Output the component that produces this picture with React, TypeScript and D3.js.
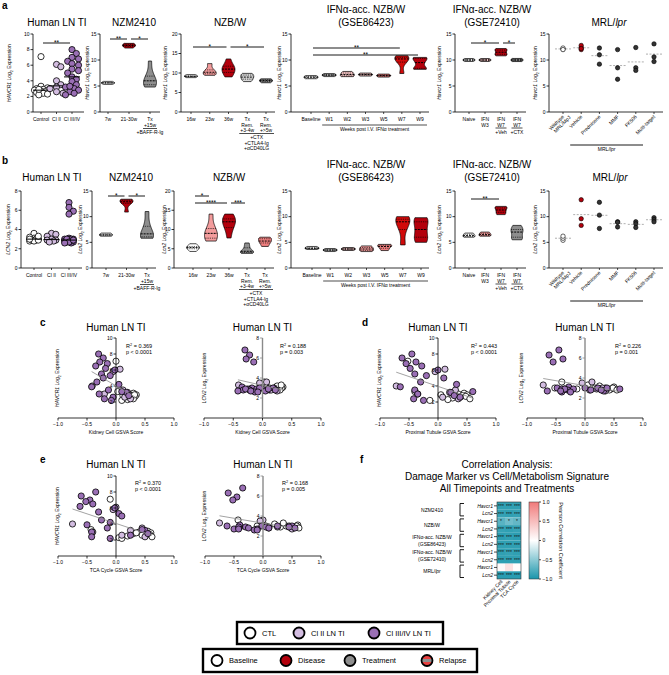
import React from "react";
import * as d3 from "d3";

const F = "'Liberation Sans', Arial, Helvetica, sans-serif";

/* ======================= DATA ======================= */
// Human LN TI cohort, one entry per sample
const ctlHAVCR1 = [7.1, 3.3, 3.1, 3.0, 2.9, 2.8, 2.8, 2.7, 2.6, 2.5, 2.4, 2.3, 2.2, 2.9];
const ctlLCN2 = [3.0, 3.6, 2.9, 3.0, 3.1, 2.9, 2.8, 3.0, 2.9, 3.2, 2.8, 3.0, 2.9, 3.3];
const ctlKidney = [0.0, 0.03, 0.3, 0.22, 0.35, 0.28, 0.12, 0.33, 0.18, 0.25, 0.3, 0.2, 0.1, 0.32];
const ctlPT = [-0.52, -0.4, 0.45, 0.35, 0.5, 0.3, 0.42, 0.48, 0.38, 0.25, 0.55, 0.17, -0.14, 0.05];
const ctlTCA = [-0.1, -0.43, 0.55, 0.4, 0.6, 0.3, 0.5, 0.58, 0.45, 0.2, 0.62, 0.05, 0.1, 0.35];

const c2HAVCR1 = [6.1, 5.8, 4.0, 3.5, 3.2, 3.0, 2.6, 2.4];
const c2LCN2 = [3.6, 3.5, 3.3, 3.0, 2.9, 2.9, 2.8, 2.7];
const c2Kidney = [0.07, -0.05, -0.41, 0.12, 0.2, -0.2, 0.15, 0.25];
const c2PT = [0.12, -0.05, -0.72, 0.3, 0.2, -0.35, 0.08, 0.35];
const c2TCA = [0.0, -0.05, -0.75, 0.45, 0.25, -0.4, 0.1, 0.5];

const c34HAVCR1 = [8.0, 7.5, 7.0, 6.8, 6.5, 6.2, 6.0, 5.5, 5.3, 5.0, 4.5, 4.2, 3.9, 3.5, 3.2, 3.0, 2.8, 2.6, 2.4, 2.2, 3.3];
const c34LCN2 = [6.8, 6.3, 5.9, 5.6, 3.1, 3.0, 3.0, 2.9, 2.9, 2.8, 2.8, 2.7, 2.7, 2.6, 3.0, 2.9, 2.8, 3.0, 2.7, 2.6, 2.9];
const c34Kidney = [-0.3, -0.22, -0.28, -0.15, -0.35, -0.18, -0.02, -0.25, -0.1, -0.22, -0.33, 0.05, -0.42, -0.13, 0.18, -0.29, 0.22, -0.05, -0.2, -0.08, 0.1];
const c34PT = [-0.45, -0.62, -0.38, -0.55, -0.28, -0.48, 0.0, -0.4, -0.2, 0.1, -0.3, 0.32, -0.65, -0.4, 0.22, -0.35, 0.28, 0.38, -0.42, -0.25, 0.6];
const c34TCA = [-0.35, -0.6, -0.45, -0.52, -0.4, -0.62, -0.02, -0.3, 0.05, 0.1, -0.25, -0.1, -0.5, -0.15, 0.5, -0.42, 0.55, 0.25, -0.42, -0.1, 0.45];

const humanCats = ["Control", "Cl II", "Cl III/IV"];

// NZM2410
const nzmCats = ["7w", "21-30w", "Tx"];
const nzmTxSub = ["+15w", "+BAFF-R-Ig"];
const nzmHavcr1 = [[5.5, 5.6, 5.7, 5.6], [12.3, 12.6, 12.8, 13.0, 13.2], [4.8, 5.0, 5.5, 6.0, 6.3, 7.5, 9.8]];
const nzmLcn2 = [[6.2, 6.5, 6.8, 6.4], [10.9, 12.6, 12.9, 13.2, 13.4], [5.8, 6.0, 6.3, 7.0, 8.5, 11.0]];

// NZB/W
const nzbCats = ["16w", "23w", "36w", "Tx", "Tx"];
const nzbRem = ["Rem.", "Rem."];
const nzbWeeks = ["+3-4w", "+>5w"];
const nzbTx = ["+CTX", "+CTLA4-Ig", "+αCD40LG"];
const nzbHavcr1 = [[9.0, 9.2, 9.4, 9.1], [9.4, 9.8, 10.2, 10.8, 12.4], [9.0, 9.8, 10.5, 11.0, 11.5, 12.0, 13.6], [7.8, 8.3, 8.8, 9.1, 9.6, 9.9], [7.5, 7.9, 8.2, 8.5]];
const nzbLcn2 = [[4.3, 5.0, 5.3, 5.6, 6.3], [7.0, 7.5, 8.5, 9.5, 10.5, 14.0], [7.8, 10.0, 11.0, 12.0, 12.5, 13.0, 14.0], [3.8, 4.0, 4.2, 4.5, 5.5, 6.5], [5.6, 6.5, 7.0, 7.6, 8.0]];

// IFNα-accelerated NZB/W (GSE86423)
const gse86Cats = ["Baseline", "W1", "W2", "W3", "W5", "W7", "W9"];
const gse86Note = "Weeks post I.V. IFNα treatment";
const gse86Havcr1 = [[6.4, 6.6, 6.8, 7.0], [6.9, 7.1, 7.3], [6.8, 7.0, 7.4, 7.8], [7.0, 7.2, 7.4], [6.8, 7.0, 7.2], [7.4, 9.6, 10.2, 10.5, 10.8], [8.2, 8.4, 9.5, 10.3, 10.5]];
const gse86Lcn2 = [[3.7, 3.9, 4.1, 3.8], [3.4, 3.5, 3.6], [3.5, 3.7, 3.9], [3.2, 3.5, 3.9, 4.3], [3.4, 4.0, 4.4, 4.6], [4.5, 7.5, 9.0, 9.5, 10.0], [5.0, 6.0, 7.5, 9.0, 9.8]];

// IFNα-accelerated NZB/W (GSE72410)
const gse72Cats = ["Naive", "IFN", "IFN", "IFN"];
const gse72Sub = ["", "W3", "W7", "W7"];
const gse72Sub2 = ["", "", "+Veh", "+CTX"];
const gse72Havcr1 = [[9.8, 10.0, 10.2], [9.9, 10.1], [10.8, 11.2, 11.8, 12.2], [9.7, 10.0, 10.3]];
const gse72Lcn2 = [[6.0, 6.3, 6.8], [6.2, 6.5, 7.0], [10.4, 11.0, 11.6, 12.0], [5.5, 6.0, 7.0, 7.5, 8.3]];

// MRL/lpr
const mrlCats = [["Wildtype", "MRL/MpJ"], ["Vehicle"], ["Prednisone"], ["MMF"], ["FK506"], ["Multi-target"]];
const mrlGroup = "MRL/lpr";
const mrlHavcr1 = [[12.1, 12.3, 12.0], [12.0, 12.4, 12.8, 12.2], [12.3, 11.0, 9.2], [12.0, 8.5, 6.3], [12.4, 8.5, 8.0], [13.1, 10.6, 9.7]];
const mrlLcn2 = [[5.4, 5.8, 6.2], [13.3, 9.6, 8.3], [12.8, 10.3, 7.7], [9.0, 8.9, 8.0], [9.0, 8.6, 7.9], [9.8, 9.4, 9.0]];

// Correlations shown in c-e
const corrStats = [
  ["0.369", "p < 0.0001"], ["0.188", "p = 0.003"],
  ["0.443", "p < 0.0001"], ["0.226", "p = 0.001"],
  ["0.370", "p < 0.0001"], ["0.168", "p = 0.005"],
];

// Heatmap f
const hmGroups = [["NZM2410"], ["NZB/W"], ["IFNα-acc. NZB/W", "(GSE86423)"], ["IFNα-acc. NZB/W", "(GSE72410)"], ["MRL/lpr"]];
const hmGenes = ["Havcr1", "Lcn2"];
const hmCols = ["Kidney Cell", "Proximal Tubule", "TCA Cycle"];
const hmValues = [
  [-0.9, -0.9, -0.9], [-0.88, -0.9, -0.88],
  [-0.72, -0.62, -0.68], [-0.88, -0.9, -0.88],
  [-0.92, -0.9, -0.92], [-0.9, -0.9, -0.9],
  [-0.9, -0.88, -0.9], [-0.9, -0.9, -0.9],
  [0.04, 0.22, 0.02], [-0.93, -0.93, -0.93],
];
const hmSig = [
  ["***", "***", "***"], ["***", "***", "***"],
  ["*", "*", "*"], ["***", "***", "***"],
  ["***", "***", "***"], ["***", "***", "***"],
  ["***", "***", "***"], ["***", "***", "***"],
  ["", "", ""], ["***", "***", "***"],
];
const cbTicks = [1, 0.5, 0, -0.5, -1];

const legend1 = ["CTL", "Cl II LN TI", "Cl III/IV LN TI"];
const legend2 = ["Baseline", "Disease", "Treatment", "Relapse"];

/* ======================= STYLE ======================= */
const WHITE = "#ffffff";
const RED = "#b3000c";
const RED2 = "#d10a0a";
const PINK = "#f39c9c";
const PINK_L = "#f7c6c6";
const SALMON = "#ef7f7f";
const GRAY = "#8e8e8e";
const GRAY_L = "#d6d6d6";
const DARK = "#333333";
const CL2 = "#d3bde1";
const CL34 = "#9a6fb5";

/* ======================= HELPERS ======================= */
function Rich({ s }: { s: string }) {
  const parts = s.split(/(lpr)/);
  return (
    <>
      {parts.map((t, i) =>
        t === "lpr" ? <tspan key={i} fontStyle="italic">lpr</tspan> : <tspan key={i}>{t}</tspan>
      )}
    </>
  );
}

function YLabel({ x, y, gene, size = 5 }: any) {
  return (
    <text transform={`translate(${x},${y}) rotate(-90)`} textAnchor="middle" fontSize={size} fontFamily={F}>
      <tspan fontStyle="italic">{gene}</tspan>
      <tspan> Log</tspan>
      <tspan fontSize={size * 0.7} dy={size * 0.3}>2</tspan>
      <tspan dy={-size * 0.3}> Expression</tspan>
    </text>
  );
}

function Violin({ vals, cx, y, hw, fill }: any) {
  const s = vals.slice().sort(d3.ascending);
  const unitsPerPx = Math.abs(y.invert(0) - y.invert(1));
  let lo = s[0], hi = s[s.length - 1];
  const minSpan = 3 * unitsPerPx;
  if (hi - lo < minSpan) {
    const m = (lo + hi) / 2;
    lo = m - minSpan / 2;
    hi = m + minSpan / 2;
  }
  const bw = Math.max((hi - lo) * 0.22, minSpan * 0.6);
  const f = (p: number) => d3.sum(s, (v: number) => Math.exp(-0.5 * ((p - v) / bw) ** 2));
  const grid = d3.range(41).map((i) => lo + ((hi - lo) * i) / 40);
  const dmax = d3.max(grid, f) as number;
  const w = (v: number) => (hw * f(v)) / dmax;
  const area = d3.area<number>().x0((v) => cx - w(v)).x1((v) => cx + w(v)).y((v) => y(v)).curve(d3.curveCatmullRom);
  const q = [0.25, 0.5, 0.75].map((t) => d3.quantile(s, t) as number);
  return (
    <g>
      <path d={area(grid) as string} fill={fill} stroke="#000" strokeWidth={0.7} />
      {q.map((v, i) => (
        <line key={i} x1={cx - w(v)} x2={cx + w(v)} y1={y(v)} y2={y(v)} stroke="#000"
          strokeWidth={i === 1 ? 1 : 0.8} strokeDasharray={i === 1 ? "2,1" : "0.8,1"} />
      ))}
    </g>
  );
}

function swarmOffsets(vals: number[], y: any, r: number, maxW: number, minFrac: number) {
  const order = vals.map((v, i) => ({ v, i, py: y(v) })).sort((a, b) => a.py - b.py);
  const placed: { dx: number; py: number }[] = [];
  const dxs = new Array(vals.length).fill(0);
  const step = r * 0.7;
  const cands = [0];
  for (let k = 1; k * step <= maxW; k++) cands.push(k * step, -k * step);
  for (const o of order) {
    let best = 0, bestD = -1;
    for (const c of cands) {
      const dmin = placed.length ? (d3.min(placed, (p) => Math.hypot(p.dx - c, p.py - o.py)) as number) : Infinity;
      if (dmin >= 2 * r * minFrac) { best = c; break; }
      if (dmin > bestD) { bestD = dmin; best = c; }
    }
    placed.push({ dx: best, py: o.py });
    dxs[o.i] = best;
  }
  return dxs;
}

function Dots({ vals, cx, y, r, fill, maxW, minFrac = 0.9, sw = 0.8 }: any) {
  const dxs = swarmOffsets(vals, y, r, maxW, minFrac);
  return (
    <g>
      {vals.map((v: number, i: number) => (
        <circle key={i} cx={cx + dxs[i]} cy={y(v)} r={r} fill={fill} stroke="#000" strokeWidth={sw} />
      ))}
    </g>
  );
}

function SigBar({ x1, x2, y, label }: any) {
  return (
    <g>
      <line x1={x1} x2={x2} y1={y} y2={y} stroke="#000" strokeWidth={0.9} />
      <text x={(x1 + x2) / 2} y={y + 2.2} textAnchor="middle" fontSize={6.5} fontFamily={F}>{label}</text>
    </g>
  );
}

function XLabels({ p, x }: any) {
  const b = p.yBot;
  const fs = 5;
  const T = (props: any) => <text textAnchor="middle" fontSize={fs} fontFamily={F} {...props} />;
  if (p.kind === "human") {
    return <g>{humanCats.map((c, i) => <T key={i} x={x(i)} y={b + 9}>{c}</T>)}</g>;
  }
  if (p.kind === "nzm") {
    const cx = x(2);
    return (
      <g>
        <T x={x(0)} y={b + 9}>{nzmCats[0]}</T>
        <T x={x(1)} y={b + 9}>{nzmCats[1]}</T>
        <T x={cx} y={b + 9}>{nzmCats[2]}</T>
        <T x={cx} y={b + 15}>{nzmTxSub[0]}</T>
        <line x1={cx - 7} x2={cx + 7} y1={b + 16.5} y2={b + 16.5} stroke="#000" strokeWidth={0.7} />
        <T x={cx} y={b + 22}>{nzmTxSub[1]}</T>
      </g>
    );
  }
  if (p.kind === "nzb") {
    const a = x(3), c = x(4);
    return (
      <g>
        {[0, 1, 2].map((i) => <T key={i} x={x(i)} y={b + 9}>{nzbCats[i]}</T>)}
        <T x={a} y={b + 9}>{nzbCats[3]}</T>
        <T x={c} y={b + 9}>{nzbCats[4]}</T>
        <T x={a} y={b + 14.5}>{nzbRem[0]}</T>
        <T x={c} y={b + 14.5}>{nzbRem[1]}</T>
        <T x={a} y={b + 20}>{nzbWeeks[0]}</T>
        <T x={c} y={b + 20}>{nzbWeeks[1]}</T>
        <line x1={a - 8} x2={c + 8} y1={b + 21.5} y2={b + 21.5} stroke="#000" strokeWidth={0.7} />
        {nzbTx.map((t, i) => <T key={t} x={(a + c) / 2} y={b + 27 + i * 5.5}>{t}</T>)}
      </g>
    );
  }
  if (p.kind === "gse86") {
    const a = x(1), c = x(6);
    return (
      <g>
        {gse86Cats.map((t, i) => <T key={i} x={x(i)} y={b + 9}>{t}</T>)}
        <line x1={a - 7} x2={c + 7} y1={b + 13} y2={b + 13} stroke="#000" strokeWidth={0.7} />
        <T x={(a + c) / 2} y={b + 19}>{gse86Note}</T>
      </g>
    );
  }
  if (p.kind === "gse72") {
    return (
      <g>
        {gse72Cats.map((t, i) => (
          <g key={i}>
            <T x={x(i)} y={b + 9}>{t}</T>
            {gse72Sub[i] && <T x={x(i)} y={b + 14.5}>{gse72Sub[i]}</T>}
            {gse72Sub2[i] && (
              <>
                <line x1={x(i) - 5.5} x2={x(i) + 5.5} y1={b + 16} y2={b + 16} stroke="#000" strokeWidth={0.7} />
                <T x={x(i)} y={b + 21.5}>{gse72Sub2[i]}</T>
              </>
            )}
          </g>
        ))}
      </g>
    );
  }
  if (p.kind === "mrl") {
    const a = x(1), c = x(5);
    return (
      <g>
        {mrlCats.map((lines, i) => (
          <text key={i} transform={`translate(${x(i) + 1.5},${b + 5}) rotate(-45)`} textAnchor="end" fontSize={fs} fontFamily={F}>
            {lines.map((l, j) => (
              <tspan key={j} x={j * 4} dy={j === 0 ? 0 : 5.2}>{l}</tspan>
            ))}
          </text>
        ))}
        <line x1={a - 11} x2={c - 11} y1={b + 33} y2={b + 33} stroke="#000" strokeWidth={0.9} />
        <text x={(a + c) / 2 - 11} y={b + 39} textAnchor="middle" fontSize={fs} fontFamily={F}><Rich s={mrlGroup} /></text>
      </g>
    );
  }
  return null;
}

function CatPanel({ p }: any) {
  const y = d3.scaleLinear().domain([0, p.yMax]).range([p.yBot, p.yTop]);
  const x = d3.scalePoint<number>().domain(d3.range(p.groups.length)).range(p.range);
  const nT = p.title.length;
  return (
    <g>
      {p.title.map((t: string, i: number) => (
        <text key={i} x={p.titleX} y={p.titleY - (nT - 1 - i) * 13} textAnchor="middle" fontSize={10} fontFamily={F}>
          <Rich s={t} />
        </text>
      ))}
      <YLabel x={p.ylabX} y={(p.yTop + p.yBot) / 2} gene={p.gene} />
      <line x1={p.axisX} x2={p.axisX} y1={p.yTop} y2={p.yBot} stroke="#000" strokeWidth={0.8} />
      {d3.range(0, p.yMax + 0.001, p.tickStep).map((t) => (
        <g key={t}>
          <line x1={p.axisX - 2.5} x2={p.axisX} y1={y(t)} y2={y(t)} stroke="#000" strokeWidth={0.8} />
          <text x={p.axisX - 3.5} y={y(t) + 1.8} textAnchor="end" fontSize={5} fontFamily={F}>{t}</text>
        </g>
      ))}
      <line x1={p.axisX} x2={p.xEnd} y1={p.yBot} y2={p.yBot} stroke="#000" strokeWidth={0.8} />
      {p.groups.map((_: any, i: number) => (
        <line key={i} x1={x(i)} x2={x(i)} y1={p.yBot} y2={p.yBot + 2} stroke="#000" strokeWidth={0.7} />
      ))}
      {p.mode === "violin" &&
        p.groups.map((g: number[], i: number) => (
          <Violin key={i} vals={g} cx={x(i)} y={y} hw={p.hw} fill={p.colors[i]} />
        ))}
      {p.mode === "human" &&
        p.groups.map((g: number[], i: number) => {
          const med = d3.median(g) as number;
          return (
            <g key={i}>
              <Dots vals={g} cx={x(i)} y={y} r={3.1} fill={p.colors[i]} maxW={p.swarmW} minFrac={0.75} />
              <line x1={x(i) - 8} x2={x(i) + 8} y1={y(med)} y2={y(med)} stroke="#000" strokeWidth={1} />
            </g>
          );
        })}
      {p.mode === "mrl" &&
        p.groups.map((g: number[], i: number) => {
          const mean = d3.mean(g) as number;
          return (
            <g key={i}>
              <line x1={x(i) - 8} x2={x(i) + 8} y1={y(mean)} y2={y(mean)} stroke="#9a9a9a" strokeWidth={0.8} strokeDasharray="2,1.5" />
              <Dots vals={g} cx={x(i)} y={y} r={2.2} fill={p.colors[i]} maxW={1.5} minFrac={0.5} sw={0.6} />
            </g>
          );
        })}
      {p.sig.map((s: any, k: number) => (
        <SigBar key={k} x1={x(s[0]) + 2} x2={x(s[1]) - 2} y={s[3]} label={s[2]} />
      ))}
      <XLabels p={p} x={x} />
    </g>
  );
}

function Scatter({ s }: any) {
  const x = d3.scaleLinear().domain([-1, 1]).range([s.xL, s.xR]);
  const y = d3.scaleLinear().domain([0, s.yMax]).range([s.yB, s.yT]);
  const sets = [
    { xs: s.xs[0], ys: s.ys[0], fill: WHITE },
    { xs: s.xs[1], ys: s.ys[1], fill: CL2 },
    { xs: s.xs[2], ys: s.ys[2], fill: CL34 },
  ];
  const allX: number[] = [].concat(...s.xs);
  const allY: number[] = [].concat(...s.ys);
  const mx = d3.mean(allX) as number, my = d3.mean(allY) as number;
  const slope = d3.sum(allX, (v, i) => (v - mx) * (allY[i] - my)) / d3.sum(allX, (v) => (v - mx) ** 2);
  const icpt = my - slope * mx;
  const [fx0, fx1] = d3.extent(allX) as [number, number];
  const x0 = x(0);
  const axisCol = s.gray ? "#8a8a8a" : "#000";
  return (
    <g fontFamily={F}>
      <text x={x0} y={s.titleY} textAnchor="middle" fontSize={10}>Human LN TI</text>
      <YLabel x={s.ylx} y={(s.yB + s.yT) / 2} gene={s.gene} />
      <line x1={s.xL} x2={s.xR} y1={s.yB} y2={s.yB} stroke="#000" strokeWidth={0.8} />
      {[-1, -0.5, 0, 0.5, 1].map((t) => (
        <g key={t}>
          <line x1={x(t)} x2={x(t)} y1={s.yB} y2={s.yB + 2.5} stroke="#000" strokeWidth={0.8} />
          <text x={x(t)} y={s.yB + 8} textAnchor="middle" fontSize={5}>{d3.format(".1f")(t).replace("-", "-")}</text>
        </g>
      ))}
      <text x={x0} y={s.yB + 16} textAnchor="middle" fontSize={5}>{s.xLabel}</text>
      {sets.map((st, k) =>
        st.xs.map((v: number, i: number) => (
          <circle key={k + "-" + i} cx={x(v)} cy={y(st.ys[i])} r={3.1} fill={st.fill} stroke="#000" strokeWidth={0.8} />
        ))
      )}
      <line x1={x0} x2={x0} y1={s.yT} y2={s.yB} stroke={axisCol} strokeWidth={s.gray ? 1.4 : 0.8} />
      {s.ticks.map((t: number) => (
        <g key={t}>
          <line x1={x0 - 2.5} x2={x0} y1={y(t)} y2={y(t)} stroke={axisCol} strokeWidth={0.8} />
          <text x={x0 - 3.5} y={y(t) + 1.8} textAnchor="end" fontSize={5}>{t}</text>
        </g>
      ))}
      <line x1={x(fx0)} x2={x(fx1)} y1={y(icpt + slope * fx0)} y2={y(icpt + slope * fx1)} stroke="#8c8c8c" strokeWidth={0.8} />
      <text x={s.r2x} y={s.r2y} fontSize={5.5}>
        R<tspan fontSize={3.8} dy={-2}>2</tspan><tspan dy={2}> = {s.stats[0]}</tspan>
      </text>
      <text x={s.r2x} y={s.r2y + 6} fontSize={5.5}>{s.stats[1]}</text>
    </g>
  );
}

function Heatmap() {
  const x0 = 497, cw = 8, y0 = 502, rh = 7.7;
  const color = d3.scaleLinear<string>().domain([-1, 0, 1]).range(["#1995ab", "#ffffff", "#f07a7a"]);
  const cbX = 529, cbW = 10, cbY0 = 502, cbY1 = 579;
  const cy = d3.scaleLinear().domain([-1, 1]).range([cbY1, cbY0]);
  return (
    <g fontFamily={F}>
      <defs>
        <linearGradient id="cbg" x1="0" y1="1" x2="0" y2="0">
          <stop offset="0%" stopColor={color(-1)} />
          <stop offset="50%" stopColor={color(0)} />
          <stop offset="100%" stopColor={color(1)} />
        </linearGradient>
      </defs>
      {hmValues.map((row, r) =>
        row.map((v, c) => (
          <g key={r + "-" + c}>
            <rect x={x0 + c * cw} y={y0 + r * rh} width={cw} height={rh} fill={color(v)} />
            {hmSig[r][c] && (
              <text x={x0 + c * cw + cw / 2} y={y0 + r * rh + rh / 2 + 2.2} textAnchor="middle" fontSize={5} fill="#111">{hmSig[r][c]}</text>
            )}
          </g>
        ))
      )}
      <rect x={x0} y={y0} width={cw * 3} height={rh * hmValues.length} fill="none" stroke="#333" strokeWidth={0.6} />
      {hmValues.map((_, r) => (
        <g key={r}>
          <line x1={x0 - 3} x2={x0} y1={y0 + r * rh + rh / 2} y2={y0 + r * rh + rh / 2} stroke="#000" strokeWidth={0.7} />
          <text x={x0 - 4} y={y0 + r * rh + rh / 2 + 1.8} textAnchor="end" fontSize={5} fontStyle="italic">{hmGenes[r % 2]}</text>
        </g>
      ))}
      {hmGroups.map((lines, g) => {
        const top = y0 + g * 2 * rh, bot = top + 2 * rh, mid = (top + bot) / 2;
        return (
          <g key={g}>
            <path d={`M${464},${top + 1.5}H${460}V${bot - 1.5}H${464}`} fill="none" stroke="#000" strokeWidth={0.9} />
            {lines.map((l, j) => (
              <text key={j} x={432} y={mid + 1.8 + (j - (lines.length - 1) / 2) * 7} textAnchor="middle" fontSize={5}>
                <Rich s={l} />
              </text>
            ))}
          </g>
        );
      })}
      {hmCols.map((c, i) => (
        <text key={c} transform={`translate(${x0 + i * cw + cw / 2 + 2},${y0 + rh * 10 + 3}) rotate(-45)`} textAnchor="end" fontSize={5}>{c}</text>
      ))}
      <rect x={cbX} y={cbY0} width={cbW} height={cbY1 - cbY0} fill="url(#cbg)" stroke="#333" strokeWidth={0.5} />
      {cbTicks.map((t) => (
        <g key={t}>
          <line x1={cbX + cbW} x2={cbX + cbW + 2} y1={cy(t)} y2={cy(t)} stroke="#000" strokeWidth={0.7} />
          <text x={cbX + cbW + 3.5} y={cy(t) + 1.8} fontSize={5}>{t === 0 ? "0" : d3.format(".1f")(t)}</text>
        </g>
      ))}
      <text transform={`translate(${559},${(cbY0 + cbY1) / 2}) rotate(90)`} textAnchor="middle" fontSize={5.5}>Pearson Correlation Coefficient</text>
    </g>
  );
}

function Legend() {
  const items1 = [
    { x: 250, fill: WHITE, tx: 262 },
    { x: 299, fill: CL2, tx: 311 },
    { x: 374, fill: CL34, tx: 386 },
  ];
  const items2 = [
    { x: 217, fill: WHITE, tx: 229 },
    { x: 286, fill: RED, tx: 298 },
    { x: 350, fill: GRAY, tx: 362 },
    { x: 427, fill: "relapse", tx: 439 },
  ];
  return (
    <g fontFamily={F}>
      <defs>
        <clipPath id="relclip"><circle cx={427} cy={660.5} r={5.5} /></clipPath>
      </defs>
      <rect x={237} y={622} width={206} height={22} fill="#fff" stroke="#000" strokeWidth={2.4} />
      {items1.map((it, i) => (
        <g key={i}>
          <circle cx={it.x} cy={633} r={5.5} fill={it.fill} stroke="#000" strokeWidth={1.8} />
          <text x={it.tx} y={635.8} fontSize={7.5}>{legend1[i]}</text>
        </g>
      ))}
      <rect x={203} y={649} width={274} height={23} fill="#fff" stroke="#000" strokeWidth={2.4} />
      {items2.map((it, i) => (
        <g key={i}>
          {it.fill === "relapse" ? (
            <g>
              <circle cx={it.x} cy={660.5} r={5.5} fill="#e8403f" />
              <rect x={it.x - 6} y={659} width={12} height={3} fill={GRAY} clipPath="url(#relclip)" />
              <circle cx={it.x} cy={660.5} r={5.5} fill="none" stroke="#000" strokeWidth={1.8} />
            </g>
          ) : (
            <circle cx={it.x} cy={660.5} r={5.5} fill={it.fill} stroke="#000" strokeWidth={1.8} />
          )}
          <text x={it.tx} y={663.3} fontSize={7.5}>{legend2[i]}</text>
        </g>
      ))}
    </g>
  );
}

/* ======================= PANEL LAYOUT ======================= */
const A = { yTop: 34, yBot: 112, titleY: 26 };
const B = { yTop: 191, yBot: 268, titleY: 181 };

const catPanels = [
  // row a
  { ...A, kind: "human", mode: "human", title: ["Human LN TI"], titleX: 57, axisX: 33, range: [41, 72], xEnd: 84, yMax: 10, tickStep: 2, ylabX: 11, gene: "HAVCR1",
    groups: [ctlHAVCR1, c2HAVCR1, c34HAVCR1], colors: [WHITE, CL2, CL34], swarmW: 7, sig: [[0, 2, "**", 43]] },
  { ...A, kind: "nzm", mode: "violin", title: ["NZM2410"], titleX: 134, axisX: 100, range: [108, 150], xEnd: 160, yMax: 15, tickStep: 5, ylabX: 89, gene: "Havcr1", hw: 6.5,
    groups: nzmHavcr1, colors: [WHITE, RED, GRAY], sig: [[0, 1, "**", 39], [1, 2, "*", 39]] },
  { ...A, kind: "nzb", mode: "violin", title: ["NZB/W"], titleX: 230, axisX: 181, range: [191, 266], xEnd: 275, yMax: 20, tickStep: 5, ylabX: 167, gene: "Havcr1", hw: 6.5,
    groups: nzbHavcr1, colors: [WHITE, PINK, RED, GRAY_L, GRAY], sig: [[0, 2, "*", 47], [2, 4, "*", 47]] },
  { ...A, kind: "gse86", mode: "violin", title: ["IFNα-acc. NZB/W", "(GSE86423)"], titleX: 366, axisX: 291, range: [311, 420], xEnd: 429, yMax: 15, tickStep: 5, ylabX: 281, gene: "Havcr1", hw: 7,
    groups: gse86Havcr1, colors: [WHITE, GRAY_L, PINK_L, PINK_L, SALMON, RED2, RED], sig: [[0, 5, "**", 48], [0, 6, "**", 55]] },
  { ...A, kind: "gse72", mode: "violin", title: ["IFNα-acc. NZB/W", "(GSE72410)"], titleX: 492, axisX: 455, range: [469, 517], xEnd: 526, yMax: 15, tickStep: 5, ylabX: 441, gene: "Havcr1", hw: 6,
    groups: gse72Havcr1, colors: [WHITE, PINK_L, RED, GRAY], sig: [[0, 2, "*", 43], [2, 3, "*", 43]] },
  { ...A, kind: "mrl", mode: "mrl", title: ["MRL/lpr"], titleX: 609, axisX: 549, range: [563, 654], xEnd: 663, yMax: 15, tickStep: 5, ylabX: 537, gene: "Havcr1",
    groups: mrlHavcr1, colors: [WHITE, RED, DARK, DARK, DARK, DARK], sig: [] },
  // row b
  { ...B, kind: "human", mode: "human", title: ["Human LN TI"], titleX: 52, axisX: 21, range: [34, 69], xEnd: 82, yMax: 8, tickStep: 2, ylabX: 10, gene: "LCN2",
    groups: [ctlLCN2, c2LCN2, c34LCN2], colors: [WHITE, CL2, CL34], swarmW: 6, sig: [] },
  { ...B, kind: "nzm", mode: "violin", title: ["NZM2410"], titleX: 131, axisX: 92, range: [106, 147], xEnd: 156, yMax: 15, tickStep: 5, ylabX: 82, gene: "Lcn2", hw: 6.5,
    groups: nzmLcn2, colors: [WHITE, RED, GRAY], sig: [[0, 1, "*", 196], [1, 2, "*", 196]] },
  { ...B, kind: "nzb", mode: "violin", title: ["NZB/W"], titleX: 229, axisX: 174, range: [193, 265], xEnd: 274, yMax: 20, tickStep: 5, ylabX: 166, gene: "Lcn2", hw: 6.5,
    groups: nzbLcn2, colors: [WHITE, PINK, RED, GRAY, SALMON], sig: [[0, 1, "*", 196], [0, 2, "****", 203], [2, 3, "***", 203]] },
  { ...B, kind: "gse86", mode: "violin", title: ["IFNα-acc. NZB/W", "(GSE86423)"], titleX: 366, axisX: 291, range: [312, 421], xEnd: 429, yMax: 15, tickStep: 5, ylabX: 281, gene: "Lcn2", hw: 7,
    groups: gse86Lcn2, colors: [WHITE, GRAY_L, PINK_L, PINK, SALMON, RED2, RED], sig: [] },
  { ...B, kind: "gse72", mode: "violin", title: ["IFNα-acc. NZB/W", "(GSE72410)"], titleX: 492, axisX: 455, range: [469, 517], xEnd: 526, yMax: 15, tickStep: 5, ylabX: 441, gene: "Lcn2", hw: 6,
    groups: gse72Lcn2, colors: [WHITE, PINK, RED, GRAY], sig: [[0, 2, "**", 199]] },
  { ...B, kind: "mrl", mode: "mrl", title: ["MRL/lpr"], titleX: 610, axisX: 549, range: [563, 654], xEnd: 663, yMax: 15, tickStep: 5, ylabX: 537, gene: "Lcn2",
    groups: mrlLcn2, colors: [WHITE, RED, DARK, DARK, DARK, DARK], sig: [] },
];

const scatterPanels = [
  { xL: 58, xR: 174, yB: 418, yT: 338, yMax: 10, ticks: [2, 4, 6, 8, 10], gene: "HAVCR1", titleY: 331, ylx: 59, r2x: 126, r2y: 348, gray: false,
    xs: [ctlKidney, c2Kidney, c34Kidney], ys: [ctlHAVCR1, c2HAVCR1, c34HAVCR1], xLabel: "Kidney Cell GSVA Score", stats: corrStats[0] },
  { xL: 204, xR: 321, yB: 418, yT: 338, yMax: 8, ticks: [2, 4, 6, 8], gene: "LCN2", titleY: 331, ylx: 206, r2x: 280, r2y: 348, gray: true,
    xs: [ctlKidney, c2Kidney, c34Kidney], ys: [ctlLCN2, c2LCN2, c34LCN2], xLabel: "Kidney Cell GSVA Score", stats: corrStats[1] },
  { xL: 380, xR: 496, yB: 418, yT: 338, yMax: 10, ticks: [2, 4, 6, 8, 10], gene: "HAVCR1", titleY: 331, ylx: 381, r2x: 471, r2y: 348, gray: false,
    xs: [ctlPT, c2PT, c34PT], ys: [ctlHAVCR1, c2HAVCR1, c34HAVCR1], xLabel: "Proximal Tubule GSVA Score", stats: corrStats[2] },
  { xL: 527, xR: 643, yB: 418, yT: 338, yMax: 8, ticks: [2, 4, 6, 8], gene: "LCN2", titleY: 331, ylx: 523, r2x: 615, r2y: 348, gray: true,
    xs: [ctlPT, c2PT, c34PT], ys: [ctlLCN2, c2LCN2, c34LCN2], xLabel: "Proximal Tubule GSVA Score", stats: corrStats[3] },
  { xL: 58, xR: 174, yB: 556, yT: 476, yMax: 10, ticks: [2, 4, 6, 8, 10], gene: "HAVCR1", titleY: 468, ylx: 59, r2x: 135, r2y: 485, gray: false,
    xs: [ctlTCA, c2TCA, c34TCA], ys: [ctlHAVCR1, c2HAVCR1, c34HAVCR1], xLabel: "TCA Cycle GSVA Score", stats: corrStats[4] },
  { xL: 205, xR: 321, yB: 556, yT: 476, yMax: 8, ticks: [2, 4, 6, 8], gene: "LCN2", titleY: 468, ylx: 206, r2x: 282, r2y: 485, gray: true,
    xs: [ctlTCA, c2TCA, c34TCA], ys: [ctlLCN2, c2LCN2, c34LCN2], xLabel: "TCA Cycle GSVA Score", stats: corrStats[5] },
];

const panelLetters = [
  ["a", 2, 9], ["b", 2, 164], ["c", 40, 326], ["d", 362, 326], ["e", 40, 463], ["f", 360, 463],
];
const fTitle = ["Correlation Analysis:", "Damage Marker vs Cell/Metabolism Signature", "All Timepoints and Treatments"];

export default function App() {
  return (
    <svg width={669} height={675} style={{ position: "absolute", left: 0, top: 0, background: "#fff" }} fontFamily={F}>
      <rect width={669} height={675} fill="#fff" />
      {panelLetters.map(([t, x, y]) => (
        <text key={t as string} x={x as number} y={y as number} fontSize={10} fontWeight="bold">{t}</text>
      ))}
      {catPanels.map((p, i) => <CatPanel key={i} p={p} />)}
      {scatterPanels.map((s, i) => <Scatter key={i} s={s} />)}
      {fTitle.map((t, i) => (
        <text key={i} x={507} y={468 + i * 12} textAnchor="middle" fontSize={10}>{t}</text>
      ))}
      <Heatmap />
      <Legend />
    </svg>
  );
}
